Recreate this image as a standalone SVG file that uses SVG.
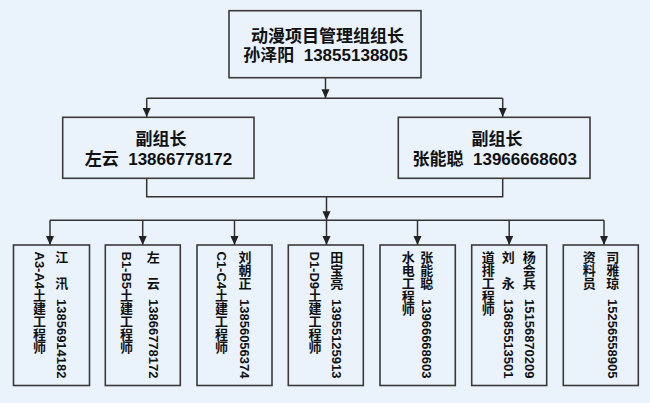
<svg xmlns="http://www.w3.org/2000/svg" width="650" height="403" viewBox="0 0 650 403">
<defs>
<style>
.bg{fill:#eaf3fc}
.box{fill:#eaf3fc;stroke:#3a3a3a;stroke-width:1.6}
.ln{fill:none;stroke:#333;stroke-width:1.5}
.t{font-family:"Liberation Sans","Noto Sans CJK SC",sans-serif;font-weight:bold;fill:#111;white-space:pre}
.h{font-size:17px;text-anchor:middle}
.v{font-size:13px}
</style>
<marker id="arr" markerUnits="userSpaceOnUse" markerWidth="10" markerHeight="10" viewBox="0 0 10 10" refX="9" refY="5" orient="auto">
<path d="M0,1 L9,5 L0,9 Z" fill="#222"/>
</marker>
</defs>
<rect class="bg" x="0" y="0" width="650" height="403"/>
<g id="connectors">
<path class="ln" d="M325.5,78 V98.3" marker-end="url(#arr)"/>
<path class="ln" d="M146.7,98.3 H502.7"/>
<path class="ln" d="M146.7,98.3 V117" marker-end="url(#arr)"/>
<path class="ln" d="M502.7,98.3 V117" marker-end="url(#arr)"/>
<path class="ln" d="M146.7,178.3 V196.7 H502.7 V178.3"/>
<path class="ln" d="M326.5,196.7 V220.3" marker-end="url(#arr)"/>
<path class="ln" d="M50,220.3 H604"/>
<path class="ln" d="M50,220.3 V245" marker-end="url(#arr)"/>
<path class="ln" d="M142.7,220.3 V245" marker-end="url(#arr)"/>
<path class="ln" d="M234.5,220.3 V245" marker-end="url(#arr)"/>
<path class="ln" d="M326.5,220.3 V245" marker-end="url(#arr)"/>
<path class="ln" d="M417.5,220.3 V245" marker-end="url(#arr)"/>
<path class="ln" d="M509.2,220.3 V245" marker-end="url(#arr)"/>
<path class="ln" d="M604,220.3 V245" marker-end="url(#arr)"/>
</g>
<g id="leader">
<rect class="box" x="229" y="10.7" width="192" height="67"/>
<text class="t h" x="327.5" y="41.5">动漫项目管理组组长</text>
<text class="t h" x="325.5" y="60.5" xml:space="preserve">孙泽阳  13855138805</text>
</g>
<g id="deputy-left">
<rect class="box" x="62.7" y="117.3" width="191.3" height="61"/>
<text class="t h" x="161" y="144.5">副组长</text>
<text class="t h" x="158.5" y="164.5" xml:space="preserve">左云  13866778172</text>
</g>
<g id="deputy-right">
<rect class="box" x="398.3" y="117.3" width="191.7" height="61"/>
<text class="t h" x="497" y="144.5">副组长</text>
<text class="t h" x="494.8" y="164.5" xml:space="preserve">张能聪  13966668603</text>
</g>
<g id="eng-a">
<rect class="box" x="13.5" y="245" width="76" height="140.5"/>
<text class="t v" xml:space="preserve" x="55.2 55.2 55.2 55.2 55.2 57.05 57.05 57.05 57.05 57.05 57.05 57.05 57.05 57.05 57.05 57.05" y="262.4 275.4 288.4 288.4 288.4 299 306.23 313.46 320.68 327.91 335.14 342.37 349.6 356.82 364.05 371.28" rotate="0 0 0 0 0 90">江　汛  13856914182</text>
<text class="t v" x="34.85 34.85 34.85 34.85 34.85 33 33 33 33 33" y="251.5 260.89 268.11 272.44 281.83 300.46 313.46 326.46 339.46 352.46" rotate="90 90 90 90 90 0">A3-A4土建工程师</text>
</g>
<g id="eng-b">
<rect class="box" x="105.3" y="245" width="75" height="140.5"/>
<text class="t v" xml:space="preserve" x="146.8 146.8 146.8 146.8 146.8 148.65 148.65 148.65 148.65 148.65 148.65 148.65 148.65 148.65 148.65 148.65" y="262.4 275.4 288.4 288.4 288.4 299 306.23 313.46 320.68 327.91 335.14 342.37 349.6 356.82 364.05 371.28" rotate="0 0 0 0 0 90">左　云  13866778172</text>
<text class="t v" x="121.85 121.85 121.85 121.85 121.85 120 120 120 120 120" y="251.5 260.89 268.11 272.44 281.83 300.46 313.46 326.46 339.46 352.46" rotate="90 90 90 90 90 0">B1-B5土建工程师</text>
</g>
<g id="eng-c">
<rect class="box" x="197" y="245" width="75" height="140.5"/>
<text class="t v" xml:space="preserve" x="238.5 238.5 238.5 238.5 238.5 240.35 240.35 240.35 240.35 240.35 240.35 240.35 240.35 240.35 240.35 240.35" y="262.4 275.4 288.4 288.4 288.4 299 306.23 313.46 320.68 327.91 335.14 342.37 349.6 356.82 364.05 371.28" rotate="0 0 0 0 0 90">刘朝正  13856056374</text>
<text class="t v" x="216.85 216.85 216.85 216.85 216.85 215 215 215 215 215" y="251.5 260.89 268.11 272.44 281.83 300.46 313.46 326.46 339.46 352.46" rotate="90 90 90 90 90 0">C1-C4土建工程师</text>
</g>
<g id="eng-d">
<rect class="box" x="288.3" y="245" width="75" height="140.5"/>
<text class="t v" xml:space="preserve" x="330.2 330.2 330.2 330.2 330.2 332.05 332.05 332.05 332.05 332.05 332.05 332.05 332.05 332.05 332.05 332.05" y="262.4 275.4 288.4 288.4 288.4 299 306.23 313.46 320.68 327.91 335.14 342.37 349.6 356.82 364.05 371.28" rotate="0 0 0 0 0 90">田宝亮  13955125913</text>
<text class="t v" x="310.35 310.35 310.35 310.35 310.35 308.5 308.5 308.5 308.5 308.5" y="251.5 260.89 268.11 272.44 281.83 300.46 313.46 326.46 339.46 352.46" rotate="90 90 90 90 90 0">D1-D9土建工程师</text>
</g>
<g id="eng-water">
<rect class="box" x="380" y="245" width="75.3" height="140.5"/>
<text class="t v" xml:space="preserve" x="420.2 420.2 420.2 420.2 420.2 422.05 422.05 422.05 422.05 422.05 422.05 422.05 422.05 422.05 422.05 422.05" y="262.4 275.4 288.4 288.4 288.4 299 306.23 313.46 320.68 327.91 335.14 342.37 349.6 356.82 364.05 371.28" rotate="0 0 0 0 0 90">张能聪  13966668603</text>
<text class="t v" x="401.8 401.8 401.8 401.8 401.8" y="262.4 275.4 288.4 301.4 314.4">水电工程师</text>
</g>
<g id="eng-drain">
<rect class="box" x="471.7" y="245" width="75" height="140.5"/>
<text class="t v" xml:space="preserve" x="522.8 522.8 522.8 522.8 522.8 524.65 524.65 524.65 524.65 524.65 524.65 524.65 524.65 524.65 524.65 524.65" y="262.4 275.4 288.4 288.4 288.4 299 306.23 313.46 320.68 327.91 335.14 342.37 349.6 356.82 364.05 371.28" rotate="0 0 0 0 0 90">杨会兵  15156870209</text>
<text class="t v" xml:space="preserve" x="501.8 501.8 501.8 501.8 501.8 503.65 503.65 503.65 503.65 503.65 503.65 503.65 503.65 503.65 503.65 503.65" y="262.4 275.4 288.4 288.4 288.4 299 306.23 313.46 320.68 327.91 335.14 342.37 349.6 356.82 364.05 371.28" rotate="0 0 0 0 0 90">刘　永  13685513501</text>
<text class="t v" x="481.8 481.8 481.8 481.8 481.8" y="262.4 275.4 288.4 301.4 314.4">道排工程师</text>
</g>
<g id="archivist">
<rect class="box" x="563.3" y="245" width="75" height="140.5"/>
<text class="t v" xml:space="preserve" x="606.2 606.2 606.2 606.2 606.2 608.05 608.05 608.05 608.05 608.05 608.05 608.05 608.05 608.05 608.05 608.05" y="262.4 275.4 288.4 288.4 288.4 299 306.23 313.46 320.68 327.91 335.14 342.37 349.6 356.82 364.05 371.28" rotate="0 0 0 0 0 90">司雅琼  15256558905</text>
<text class="t v" x="582.8 582.8 582.8" y="262.4 275.4 288.4">资料员</text>
</g>
</svg>
